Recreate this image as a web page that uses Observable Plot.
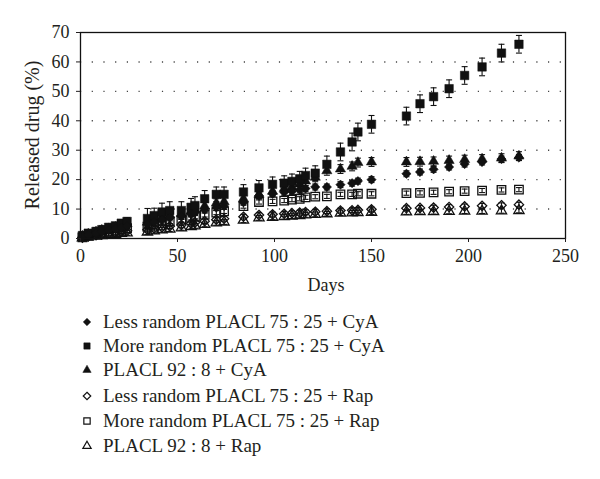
<!DOCTYPE html>
<html><head><meta charset="utf-8">
<script src="https://cdn.jsdelivr.net/npm/d3@7"></script>
<script src="https://cdn.jsdelivr.net/npm/@observablehq/plot@0.6"></script>
<style>
body{margin:0;background:#fff;font-family:"Liberation Serif",serif;}
#chart{position:relative;width:600px;height:479px;overflow:hidden;}
.row{position:absolute;left:0;height:24px;width:600px;font-size:19px;color:#231f20;}
.row svg{position:absolute;left:80px;top:5px;}
.row span{position:absolute;left:103px;top:0px;line-height:24px;white-space:nowrap;}
</style></head><body><div id="chart"></div>
<script>
const days = [1, 4, 8, 11, 14.5, 18, 21, 24, 34.5, 38, 42, 46, 52, 57, 59, 64, 70, 74, 84, 92, 99, 105, 109, 113, 116, 121, 127, 134, 140, 143, 150, 168, 175, 182, 190, 198, 207, 217, 226];
const lessRandomCyA = [0.5,1.2,1.8,2.3,2.8,3.2,3.7,4.2, 4.8,5.5,6.3,7, 7.5,8.3,8.8,9.7,10.5,11, 12.3,14.5,15.2,15.7,16,16.5,17,17.5,17.5,18.3,18.8,19.5,20, 22,22.6,23.5,24.3,25.3,26,27,27.5];
const moreRandomCyA = [1,1.8,2.4,3,3.8,4.3,5.2,5.8, 6.8,7.8,9,9.5, 9.5,10.6,11.2,13.5,15,15, 15.8,17.2,18.4,18.8,19.4,20.3,21.4,22.2,25.2,29.4,32.8,36.2,38.8, 41.6,45.8,48.2,50.9,55.4,58.3,63,66];
const placl928CyA = [0.8,1.5,2.2,2.8,3.3,3.8,4.5,5, 5.5,6.5,7.3,8, 8.5,9.5,10,11,12,12.5, 13.5,15,16,17,17.5,18.5,19.5,20.8,23,23.6,24.5,25.8,26, 26,26.1,26.2,26.5,26.8,27,27.3,28];
const lessRandomRap = [0.3,0.7,1.1,1.4,1.7,2,2.3,2.6, 3,3.4,3.8,4.2, 4.6,5.1,5.4,5.9,6.4,6.7, 7.4,8,8.2,8.4,8.6,8.8,9,9.1,9.3,9.5,9.6,9.7,9.9, 10.3,10.4,10.5,10.7,10.9,11.1,11.3,11.5];
const moreRandomRap = [0.4,1,1.5,1.9,2.3,2.7,3.1,3.5, 4,4.6,5.2,5.8, 6.3,7,7.4,8,8.8,9.2, 11,12.4,12.6,12.9,13.2,13.5,14,14.2,14.3,15,15,15.2,15.2, 15.4,15.5,15.7,15.9,16.1,16.3,16.5,16.6];
const placl928Rap = [0.2,0.5,0.8,1,1.2,1.4,1.7,1.9, 2.2,2.6,2.9,3.2, 3.6,4,4.3,4.8,5.3,5.6, 6.2,7,7.2,7.4,7.6,7.8,8,8.2,8.4,8.6,8.7,8.8,8.9, 9,9.1,9.1,9.2,9.3,9.3,9.4,9.5];
const errMoreRandomCyA = [0.8,0.8,0.9,1,1,1.1,1.2,1.3, 3.4,2.5,3,3, 3,3,3,2.8,2.5,2.5, 2.5,2.5,2.5,2.5,2.5,2.5,2.5,2.5, 2.8,3,3,3,3, 3,3,3,3,3,3,3,3];
const errOthers = {lessRandomCyA: 1, placl928CyA: 1.5, lessRandomRap: 0.8, moreRandomRap: 0.7, placl928Rap: 0.8};
const seriesNames = ["Less random PLACL 75 : 25 + CyA","More random PLACL 75 : 25 + CyA","PLACL 92 : 8 + CyA","Less random PLACL 75 : 25 + Rap","More random PLACL 75 : 25 + Rap","PLACL 92 : 8 + Rap"];
const xTicks = [0, 50, 100, 150, 200, 250];
const yTicks = [0, 10, 20, 30, 40, 50, 60, 70];
const gridY = [10, 20, 30, 40, 50, 60];
const xTitle = "Days";
const yTitle = "Released drug (%)";

const series = [
  {name: seriesNames[0], values: lessRandomCyA, err: days.map(() => errOthers.lessRandomCyA), symbol: "diamond2", filled: true},
  {name: seriesNames[1], values: moreRandomCyA, err: errMoreRandomCyA, symbol: "square", filled: true},
  {name: seriesNames[2], values: placl928CyA, err: days.map(() => errOthers.placl928CyA), symbol: "triangle", filled: true},
  {name: seriesNames[3], values: lessRandomRap, err: days.map(() => errOthers.lessRandomRap), symbol: "diamond2", filled: false},
  {name: seriesNames[4], values: moreRandomRap, err: days.map(() => errOthers.moreRandomRap), symbol: "square", filled: false},
  {name: seriesNames[5], values: placl928Rap, err: days.map(() => errOthers.placl928Rap), symbol: "triangle", filled: false}
];
const rows = series.flatMap(s => days.map((d, i) => ({series: s.name, day: d, v: s.values[i], e: s.err[i]})));
const cap = {draw(ctx) { ctx.moveTo(-3, 0); ctx.lineTo(3, 0); }};
const sizes = {diamond2: 4.2, square: 4.8, triangle: 3.8};

const marks = [
  Plot.ruleY(gridY, {stroke: "#444", strokeWidth: 1.4, strokeDasharray: "1.2,10.5"}),
  Plot.ruleX(rows, {x: "day", y1: d => d.v - d.e, y2: d => d.v + d.e, stroke: "#111", strokeWidth: 1.1}),
  Plot.dot(rows, {x: "day", y: d => d.v + d.e, symbol: cap, r: 3, stroke: "#111", strokeWidth: 1.1}),
  Plot.dot(rows, {x: "day", y: d => d.v - d.e, symbol: cap, r: 3, stroke: "#111", strokeWidth: 1.1})
];
for (const s of series.slice().reverse()) {
  marks.push(Plot.dot(rows.filter(r => r.series === s.name), {
    x: "day", y: "v", symbol: s.symbol, r: sizes[s.symbol],
    fill: s.filled ? "#111" : "none", stroke: "#111", strokeWidth: s.filled ? 0.5 : 1.3
  }));
}
marks.push(
  Plot.frame({stroke: "#111", strokeWidth: 1.3}),
  Plot.axisX({ticks: xTicks, tickSize: 4, tickPadding: 7, tickFormat: d => d, label: null, fontSize: 18}),
  Plot.axisY({ticks: yTicks, tickSize: 4, tickPadding: 7, tickFormat: d => d, label: null, fontSize: 18}),
  Plot.text([xTitle], {frameAnchor: "bottom", dx: 3, dy: 52, fontSize: 18})
);

const chart = Plot.plot({
  width: 600, height: 300,
  marginLeft: 80, marginRight: 35, marginTop: 32, marginBottom: 62,
  x: {domain: [0, 250]},
  y: {domain: [0, 70]},
  style: {fontFamily: "Liberation Serif", fontSize: "18px", color: "#231f20", background: "#fff"},
  marks
});
// rotated y-axis title placed at the vertical centre of the frame
const yMid = (chart.scale("y").apply(0) + chart.scale("y").apply(70)) / 2;
d3.select(chart).append("text")
  .attr("transform", `translate(32,${yMid}) rotate(-90)`)
  .attr("text-anchor", "middle").attr("dominant-baseline", "central")
  .attr("font-size", 20).attr("fill", "#231f20").text(yTitle);
const root = document.getElementById("chart");
root.appendChild(chart);

const legendTop = [322, 346, 370, 396, 421, 446];
series.forEach((s, i) => {
  const row = document.createElement("div");
  row.className = "row";
  row.style.top = (legendTop[i] - 12) + "px";
  const svg = d3.create("svg").attr("width", 14).attr("height", 14);
  const sym = s.symbol === "diamond2" ? d3.symbolDiamond2 : s.symbol === "square" ? d3.symbolSquare : d3.symbolTriangle;
  const size = s.symbol === "square" ? 40 : s.symbol === "diamond2" ? 36 : 30;
  svg.append("path").attr("d", d3.symbol(sym, size)()).attr("transform", "translate(7,7)")
    .attr("fill", s.filled ? "#111" : "none").attr("stroke", "#111").attr("stroke-width", s.filled ? 0.5 : 1.2);
  row.appendChild(svg.node());
  const span = document.createElement("span");
  span.textContent = s.name;
  row.appendChild(span);
  root.appendChild(row);
});
</script>
</body></html>
